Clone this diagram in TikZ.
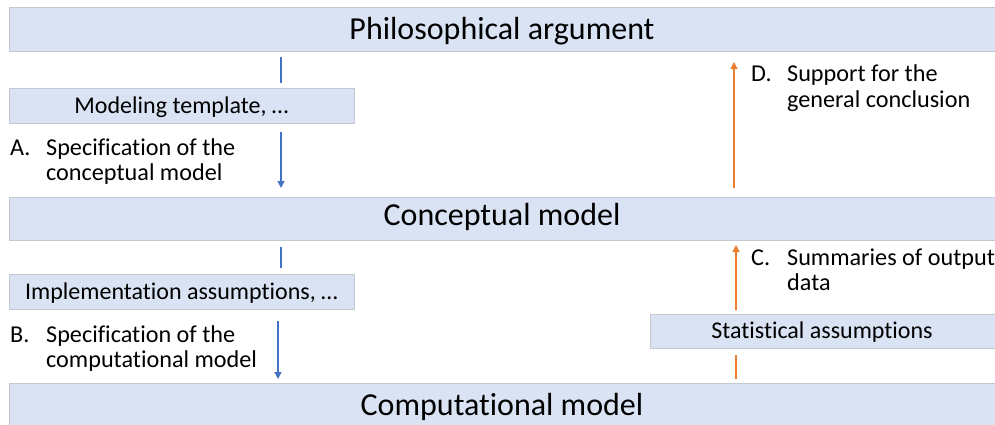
\documentclass[tikz,border=0pt]{standalone}
\usepackage{fontspec}
\setmainfont[Ligatures=NoCommon]{Carlito}
\usetikzlibrary{arrows.meta}
\definecolor{boxfill}{HTML}{DAE3F3}
\definecolor{boxline}{HTML}{C4C8D0}
\definecolor{myblue}{HTML}{4472C4}
\definecolor{myorange}{HTML}{ED7D31}
\tikzset{
  band/.style={draw=boxline, line width=0.9pt, fill=boxfill},
  bigtext/.style={anchor=base, inner sep=0pt, font=\fontsize{32}{38}\selectfont},
  smalltext/.style={anchor=base, inner sep=0pt, font=\fontsize{24}{28}\selectfont},
  lbl/.style={anchor=base west, inner sep=0pt, font=\fontsize{24.2}{25}\selectfont},
  bline/.style={draw=myblue, line width=1.3pt},
  oline/.style={draw=myorange, line width=1.3pt},
  btip/.style={-{Triangle[width=7pt,length=7pt]}},
}
\newcommand{\lab}[3]{\begin{tabular}[t]{@{}l@{}l@{}}\makebox[36pt][l]{#1}&#2\\&#3\end{tabular}}
\begin{document}
\begin{tikzpicture}[x=1pt,y=-1pt]
\useasboundingbox (0,0) rectangle (995,425);
\begin{scope}
\clip (0,0) rectangle (995,425);
% bands
\draw[band] (9,7) rectangle (996,51);
\node[bigtext] (phil) at (502,39.5) {Philosophical argument};
\draw[band] (9,197) rectangle (996,240);
\node[bigtext] (concept) at (502,225.5) {Conceptual model};
\draw[band] (9,383) rectangle (996,430);
\node[bigtext] (comp) at (502,415.5) {Computational model};
% small boxes
\draw[band] (9,88) rectangle (354,123);
\node[smalltext] (tmpl) at (181.5,113.5) {Modeling template, …};
\draw[band] (9,274) rectangle (354,309);
\node[smalltext] (impl) at (181.5,299.5) {Implementation assumptions, …};
\draw[band] (650,314) rectangle (996,348);
\node[smalltext] (stat) at (822,338.5) {Statistical assumptions};
\end{scope}
% anchor points for connectors
\coordinate (philS) at (500,51);
\coordinate (tmplN) at (181,88);
\coordinate (tmplS) at (181,123);
\coordinate (concN) at (500,197);
\coordinate (concS) at (500,240);
\coordinate (implN) at (181,274);
\coordinate (implS) at (181,309);
\coordinate (compN) at (500,383);
\coordinate (statN) at (822,314);
\coordinate (statS) at (822,348);
\coordinate (xa) at (281,0);
\coordinate (xb) at (278,0);
\coordinate (xc) at (736,0);
\coordinate (xd) at (734,0);
% blue connectors
\draw[bline, shorten <=6pt, shorten >=5pt] (philS -| xa) -- (tmplN -| xa);
\draw[bline, btip, shorten <=9pt, shorten >=9pt] (tmplS -| xa) -- (concN -| xa);
\draw[bline, shorten <=7pt, shorten >=6pt] (concS -| xa) -- (implN -| xa);
\draw[bline, btip, shorten <=12pt, shorten >=4pt] (implS -| xb) -- (compN -| xb);
% orange connectors
\draw[oline, shorten <=4pt, shorten >=7pt] (compN -| xc) -- (statS -| xc);
\draw[oline, btip, shorten <=4pt, shorten >=5pt] (statN -| xc) -- (concS -| xc);
\draw[oline, btip, shorten <=9pt, shorten >=11pt] (concN -| xd) -- (philS -| xd);
% labels
\node[lbl] (la) at (10,155) {\lab{A.}{Specification of the}{conceptual model}};
\node[lbl] (lb) at (10,342) {\lab{B.}{Specification of the}{computational model}};
\node[lbl] (lc) at (751,265) {\lab{C.}{Summaries of output}{data}};
\node[lbl] (ld) at (751,82) {\lab{D.}{Support for the}{general conclusion}};
\end{tikzpicture}
\end{document}
